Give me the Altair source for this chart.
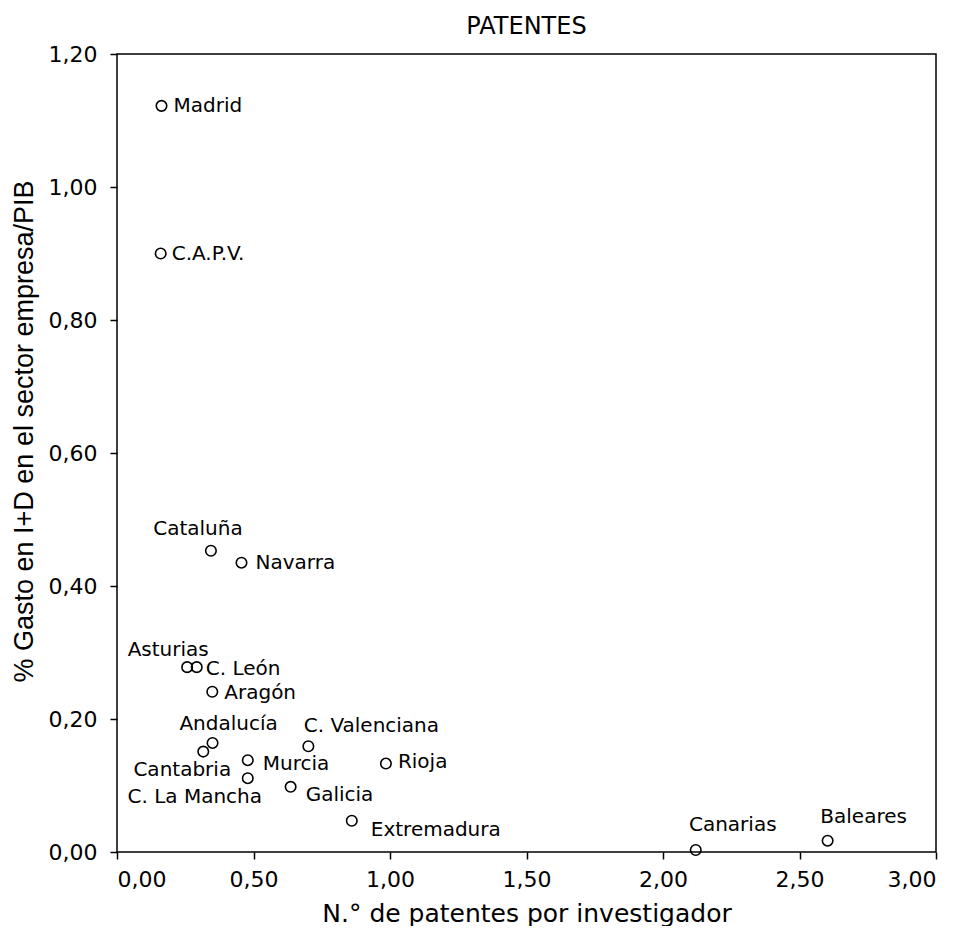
import altair as alt
import pandas as pd

regions = ["Madrid", "C.A.P.V.", "Cataluña", "Navarra", "Asturias", "C. León",
           "Aragón", "Andalucía", "Cantabria", "Murcia", "C. La Mancha",
           "C. Valenciana", "Rioja", "Galicia", "Extremadura", "Canarias", "Baleares"]
patentes = [0.163, 0.160, 0.344, 0.456, 0.257, 0.292, 0.349, 0.350, 0.316, 0.479,
            0.479, 0.701, 0.985, 0.636, 0.860, 2.120, 2.603]
gasto = [1.122, 0.900, 0.453, 0.435, 0.278, 0.278, 0.241, 0.164, 0.151, 0.138,
         0.111, 0.159, 0.133, 0.098, 0.047, 0.003, 0.017]

x_ticks = [0.0, 0.5, 1.0, 1.5, 2.0, 2.5, 3.0]
y_ticks = [0.0, 0.2, 0.4, 0.6, 0.8, 1.0, 1.2]

# label placement: (align, dx, dy)
label_pos = {
    "Madrid": ("left", 12, 0),
    "C.A.P.V.": ("left", 11, 0),
    "Cataluña": ("center", -13, -22),
    "Navarra": ("left", 14, 0),
    "Asturias": ("center", -19, -17),
    "C. León": ("left", 9, 2),
    "Aragón": ("left", 12, 1),
    "Andalucía": ("center", 16, -19),
    "Cantabria": ("center", -21, 18),
    "Murcia": ("left", 15, 4),
    "C. La Mancha": ("center", -53, 19),
    "C. Valenciana": ("center", 63, -20),
    "Rioja": ("left", 12, -2),
    "Galicia": ("left", 15, 8),
    "Extremadura": ("left", 19, 9),
    "Canarias": ("center", 37, -25),
    "Baleares": ("center", 36, -24),
}

df = pd.DataFrame({"region": regions, "patentes": patentes, "gasto": gasto})

FONT = "DejaVu Sans"
fmt = "replace(format(datum.value, '.2f'), '.', ',')"

x_enc = alt.X("patentes:Q",
              scale=alt.Scale(domain=[0, 3], nice=False, zero=False),
              axis=alt.Axis(values=x_ticks, labelExpr=fmt, labelPadding=10,
                            title="N.° de patentes por investigador",
                            titleFont=FONT, titleFontSize=25, titlePadding=11))
y_enc = alt.Y("gasto:Q",
              scale=alt.Scale(domain=[0, 1.2], nice=False, zero=False),
              axis=alt.Axis(values=y_ticks, labelExpr=fmt, labelPadding=13,
                            title="% Gasto en I+D en el sector empresa/PIB",
                            titleFont="Liberation Sans", titleFontSize=27,
                            titleX=-93, titleY=377, titleAngle=270,
                            titleAlign="center", titleBaseline="middle"))

base = alt.Chart(df)
points = base.mark_point(shape="circle", filled=False, color="black",
                         size=110, strokeWidth=1.6, opacity=1).encode(x=x_enc, y=y_enc)

layers = [points]
for name, (align, dx, dy) in label_pos.items():
    layers.append(
        base.transform_filter(alt.datum.region == name)
        .mark_text(align=align, baseline="middle", dx=dx, dy=dy,
                   font=FONT, fontSize=20, color="black")
        .encode(x="patentes:Q", y="gasto:Q", text="region:N")
    )

chart = alt.layer(*layers).properties(
    width=819, height=798,
    title=alt.TitleParams("PATENTES", font=FONT, fontSize=24, fontWeight="normal",
                          anchor="middle", offset=10, dy=25, baseline="alphabetic",
                          color="black"),
    autosize=alt.AutoSizeParams(type="none"),
    padding={"left": 109, "top": 46, "right": 15, "bottom": 74},
).configure_view(
    stroke="black", strokeWidth=1.5
).configure_axis(
    domain=False, grid=False, ticks=True, tickColor="black", tickWidth=1.5,
    tickSize=7, labelFont=FONT, labelFontSize=22, labelColor="black",
    titleFontWeight="normal", titleColor="black"
)

chart.save("out.html", embed_options={"renderer": "svg", "actions": False})
